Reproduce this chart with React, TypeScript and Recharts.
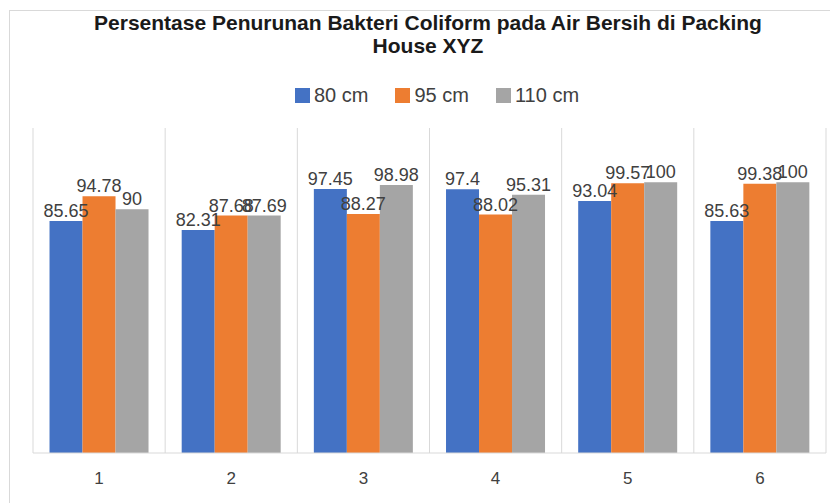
import { Bar, BarChart, CartesianGrid, LabelList, XAxis, YAxis } from 'recharts'

const categories = ['1', '2', '3', '4', '5', '6']
const cm80 = [85.65, 82.31, 97.45, 97.4, 93.04, 85.63]
const cm95 = [94.78, 87.68, 88.27, 88.02, 99.57, 99.38]
const cm110 = [90, 87.69, 98.98, 95.31, 100, 100]

const seriesMeta = [
  { key: 'cm80', name: '80 cm', color: '#4472C4' },
  { key: 'cm95', name: '95 cm', color: '#ED7D31' },
  { key: 'cm110', name: '110 cm', color: '#A5A5A5' },
]

const data = categories.map((c, i) => ({ cat: c, cm80: cm80[i], cm95: cm95[i], cm110: cm110[i] }))

const FONT = '"Liberation Sans", Arial, sans-serif'
const TEXT = '#404040'

export default function App() {
  return (
    <div
      style={{
        position: 'absolute',
        left: 0,
        top: 0,
        width: 830,
        height: 503,
        overflow: 'hidden',
        background: '#fff',
        fontFamily: FONT,
      }}
    >
      <div
        style={{
          position: 'absolute',
          left: 9,
          top: 10,
          width: 840,
          height: 520,
          border: '1px solid #d9d9d9',
        }}
      />
      <div
        style={{
          position: 'absolute',
          left: 0,
          top: 11,
          width: 856,
          textAlign: 'center',
          fontWeight: 'bold',
          fontSize: 21,
          lineHeight: '23px',
          color: '#1a1a1a',
        }}
      >
        Persentase Penurunan Bakteri Coliform pada Air Bersih di Packing
        <br />
        House XYZ
      </div>
      <div
        style={{
          position: 'absolute',
          left: 295,
          top: 83,
          display: 'flex',
          alignItems: 'center',
          gap: 27,
          fontSize: 20,
          lineHeight: '24px',
          color: TEXT,
        }}
      >
        {seriesMeta.map((s) => (
          <div key={s.key} style={{ display: 'flex', alignItems: 'center' }}>
            <span style={{ width: 15, height: 15, background: s.color, marginRight: 4 }} />
            <span>{s.name}</span>
          </div>
        ))}
      </div>
      <div style={{ position: 'absolute', left: 0, top: 0 }}>
        <BarChart
          width={830}
          height={503}
          data={data}
          margin={{ top: 128, right: 4, bottom: 0, left: 33 }}
          barCategoryGap="12.5%"
          barGap={0}
        >
          <CartesianGrid
            horizontal={false}
            stroke="#d9d9d9"
            verticalCoordinatesGenerator={({ offset }: any) =>
              categories.map((_, i) => offset.left + (i * offset.width) / categories.length).concat(offset.left + offset.width)
            }
          />
          <XAxis
            dataKey="cat"
            height={50}
            tickLine={false}
            tickMargin={13}
            axisLine={{ stroke: '#d9d9d9' }}
            tick={{ fontSize: 17, fill: TEXT, fontFamily: FONT }}
          />
          <YAxis hide domain={[0, 120]} />
          {seriesMeta.map((s) => (
            <Bar key={s.key} dataKey={s.key} name={s.name} fill={s.color} isAnimationActive={false}>
              <LabelList
                dataKey={s.key}
                position="top"
                offset={4}
                fill={TEXT}
                fontSize={18}
                fontFamily={FONT}
              />
            </Bar>
          ))}
        </BarChart>
      </div>
    </div>
  )
}
